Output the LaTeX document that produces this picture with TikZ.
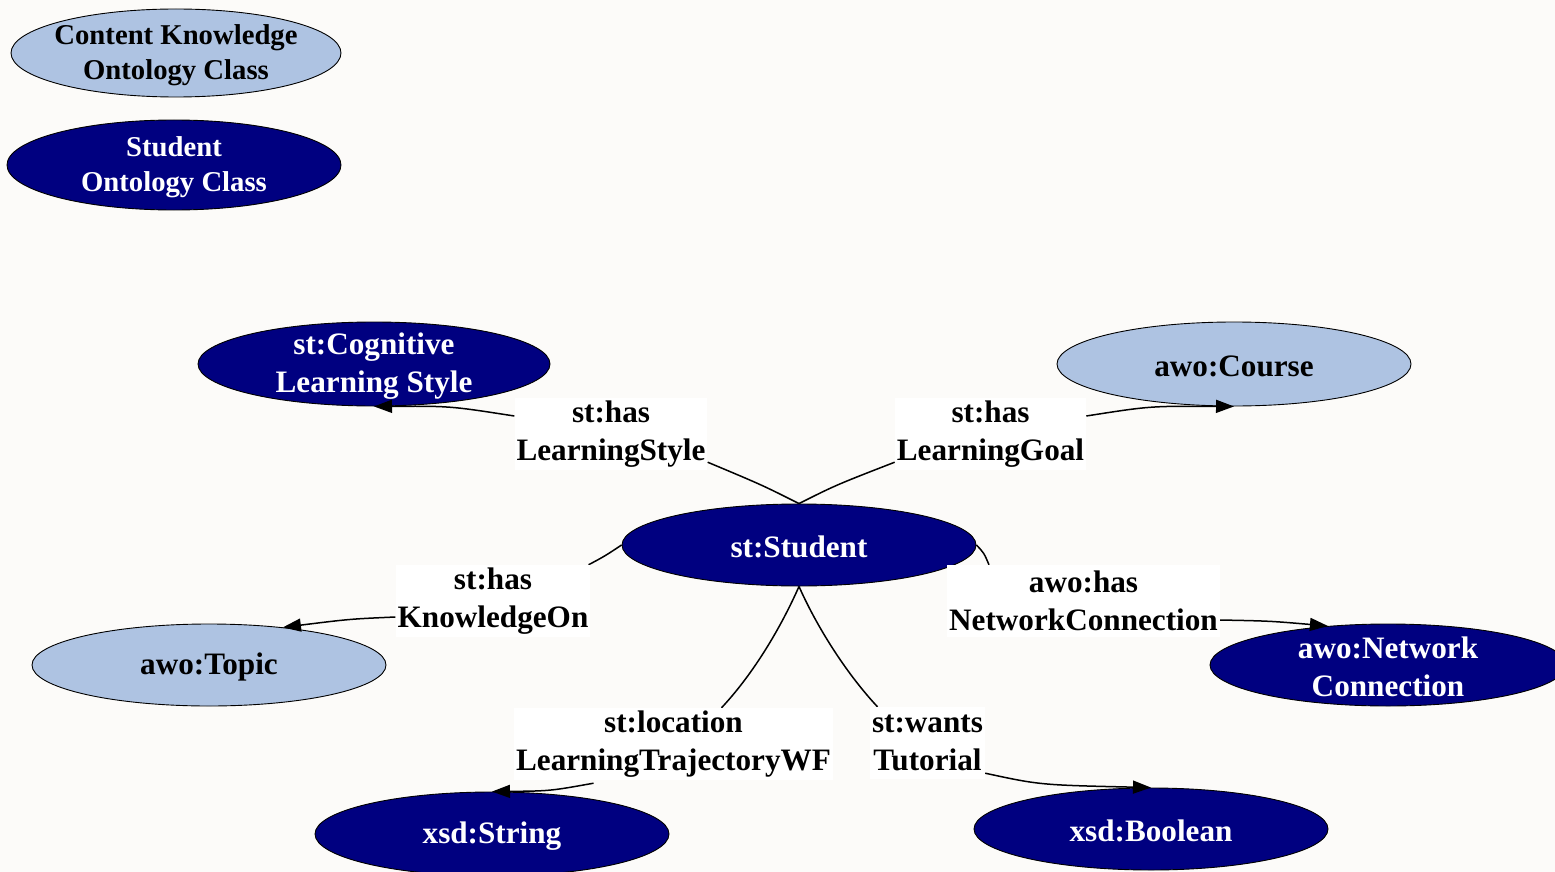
\documentclass[tikz,border=0pt]{standalone}
\usepackage{fontspec}
\setmainfont{Liberation Serif}
\usetikzlibrary{shapes.geometric,arrows.meta}
\definecolor{paper}{HTML}{FCFBF9}
\definecolor{contentblue}{HTML}{AEC3E2}
\definecolor{studentnavy}{HTML}{000080}
\pgfdeclarelayer{back}
\pgfsetlayers{back,main}
\begin{document}
\begin{tikzpicture}[x=1pt,y=-1pt,
  bigtext/.style={font=\fontsize{31.2}{37.5}\selectfont\bfseries, align=center},
  legendtext/.style={font=\fontsize{28.7}{35.5}\selectfont\bfseries, align=center},
  classnode/.style={ellipse, draw=black, line width=0.9pt, inner sep=0pt},
  ckclass/.style={classnode, fill=contentblue, label={[bigtext, text=black, yshift=-2pt]center:#1}},
  stclass/.style={classnode, fill=studentnavy, label={[bigtext, text=white, yshift=-2pt]center:#1}},
  ckkey/.style={classnode, fill=contentblue, label={[legendtext, text=black, yshift=-2pt]center:#1}},
  stkey/.style={classnode, fill=studentnavy, label={[legendtext, text=white, yshift=-2pt]center:#1}},
  relbox/.style={bigtext, fill=white, inner xsep=2pt, inner ysep=0pt, minimum height=72pt},
  link/.style={draw=black, line width=1.5pt},
  arrowlink/.style={link, -{Triangle[length=18pt,width=13pt]}}]

\useasboundingbox (0,0) rectangle (1555,872);

% legend
\node[ckkey={Content Knowledge\\Ontology Class}, minimum width=330pt, minimum height=88pt] (legendck) at (176,53) {};
\node[stkey={Student\\Ontology Class}, minimum width=334pt, minimum height=90pt] (legendst) at (174,165) {};

% classes
\node[stclass={st:Cognitive\\Learning Style}, minimum width=352pt, minimum height=84pt] (cog) at (374,364) {};
\node[ckclass={awo:Course}, minimum width=354pt, minimum height=84pt] (course) at (1234,364) {};
\node[stclass={st:Student}, minimum width=354pt, minimum height=82pt] (student) at (799,545) {};
\node[ckclass={awo:Topic}, minimum width=354pt, minimum height=82pt] (topic) at (209,665) {};
\node[stclass={awo:Network\\Connection}, minimum width=356pt, minimum height=82pt] (netconn) at (1388,665) {};
\node[stclass={xsd:String}, minimum width=354pt, minimum height=84pt] (string) at (492,834) {};
\node[stclass={xsd:Boolean}, minimum width=354pt, minimum height=82pt] (boolean) at (1151,829) {};

% property labels
\node[relbox] (lLS) at (611,434) {st:has\\LearningStyle};
\node[relbox] (lLG) at (990.5,434) {st:has\\LearningGoal};
\node[relbox] (lKO) at (493,601) {st:has\\KnowledgeOn};
\node[relbox] (lNC) at (1083.5,601) {awo:has\\NetworkConnection};
\node[relbox] (lLT) at (673.5,744) {st:location\\LearningTrajectoryWF};
\node[relbox] (lWT) at (927.5,743) {st:wants\\Tutorial};

% connectors from the student class, running behind the labels
\begin{pgfonlayer}{back}
\fill[paper] (0,0) rectangle (1555,872);
\draw[link] (student.north) .. controls (762,485) .. ([yshift=8pt]lLS.south east);
\draw[link] (student.north) .. controls (836,485) .. ([yshift=8pt]lLG.south west);
\draw[link] (student.west) .. controls (605,556) .. ([xshift=-2pt]lKO.north east);
\draw[link] (student.east) .. controls (984,553) .. ([xshift=42pt]lNC.north west);
\draw[link] (student.south) .. controls (782,625) and (755,672) .. ([xshift=48pt]lLT.north);
\draw[link] (student.south) .. controls (816,625) and (845,672) .. ([xshift=-50pt]lWT.north);
\end{pgfonlayer}

% arrows from the labels to the range classes, drawn over the ellipses
\draw[arrowlink] ([yshift=18pt]lLS.west) .. controls (450,406) .. (cog.south);
\draw[arrowlink] ([yshift=18pt]lLG.east) .. controls (1150,406) .. (course.south);
\draw[arrowlink] ([yshift=-16pt]lKO.west) .. controls (350,619) .. (topic.27);
\draw[arrowlink] ([yshift=-19pt]lNC.east) .. controls (1270,621) .. (netconn.147);
\draw[arrowlink] ([xshift=-80pt,yshift=-3pt]lLT.south) .. controls (550,791) .. (string.north);
\draw[arrowlink] ([yshift=6pt]lWT.south east) .. controls (1040,785) .. (boolean.north);
\end{tikzpicture}
\end{document}
